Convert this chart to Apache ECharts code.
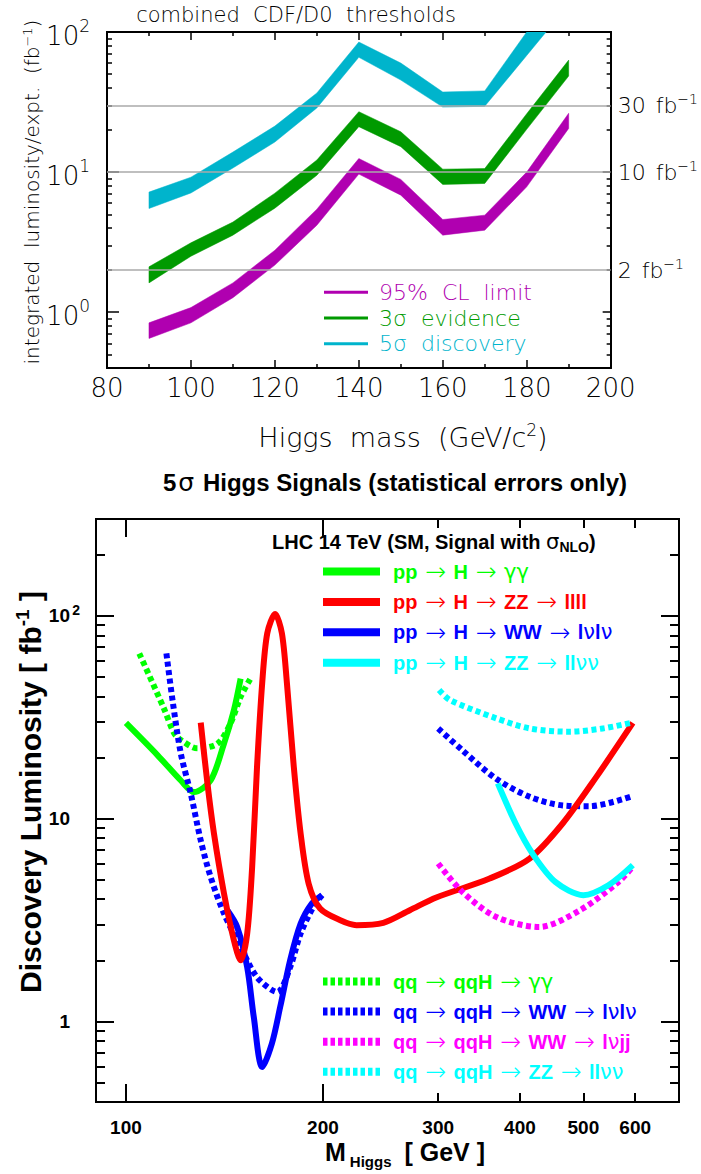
<!DOCTYPE html>
<html>
<head>
<meta charset="utf-8">
<script src="https://cdn.jsdelivr.net/npm/echarts@6.0.0/dist/echarts.min.js"></script>
<style>html,body{margin:0;padding:0;background:#fff;}#chart{width:701px;height:1174px;}</style>
</head>
<body>
<div id="chart"></div>
<script>
// ---------- top panel data (combined CDF/D0 thresholds) ----------
const topMass = [90, 100, 110, 120, 130, 140, 150, 160, 170, 180, 190];
const clLow   = [0.65, 0.84, 1.27, 2.17, 4.18, 9.68, 6.85, 3.55, 3.85, 7.85, 20.5];
const clHigh  = [0.84, 1.08, 1.62, 2.77, 5.44, 12.5, 8.87, 4.59, 4.93, 10.0, 26.3];
const evLow   = [1.62, 2.51, 3.55, 5.53, 9.5, 21.1, 15.2, 8.17, 8.3, 20.2, 48.5];
const evHigh  = [2.11, 3.13, 4.4, 7.08, 12.2, 27, 19.4, 10.5, 10.6, 26.1, 63];
const discLow  = [5.5, 7.1, 10.7, 16.4, 28.7, 66, 45.4, 29.1, 29.5, 68, 157];
const discHigh = [7.2, 9.2, 13.9, 21.3, 36.7, 84.8, 60, 37.3, 38, 100, 260];
const thresholds = [30, 10, 2];
const topNames = ['95%  CL  limit', '3σ  evidence', '5σ  discovery'];
const topYMajor = [1, 10, 100];
const topYMinor = [0.4, 0.5, 0.6, 0.7, 0.8, 0.9, 2, 3, 4, 5, 6, 7, 8, 9, 20, 30, 40, 50, 60, 70, 80, 90];

// ---------- bottom panel data (LHC 14 TeV discovery luminosity) ----------
const ggGamMass = [100, 111.8, 121.3, 127.1, 134.7, 141.2, 146.2, 149.7];
const ggGamLumi = [29.6, 20.5, 15.4, 13.5, 15.4, 23.4, 34.2, 49];
const zz4lMass = [130.1, 133.2, 136.3, 141.2, 146.2, 149.7, 153.2, 155.9, 158.6, 161.5, 164.4, 169, 173.1, 176.2, 180.5, 184.9, 190.2, 198, 212.6, 225, 247.3, 271.5, 298, 359.5, 413.8, 464.8, 523.1, 595];
const zz4lLumi = [29.7, 14.9, 8.43, 4.27, 2.51, 2.0, 2.71, 5.77, 18, 46.4, 81.9, 102, 81.9, 46.4, 18, 8.43, 4.77, 3.6, 3.15, 2.98, 3.06, 3.53, 4.08, 5.06, 6.35, 9.45, 16.0, 29.6];
const wwMass = [142.9, 147.9, 153.2, 156.8, 161.5, 167.1, 172.1, 178.2, 184.9, 192.3, 199.4];
const wwLumi = [3.53, 2.92, 1.85, 1.05, 0.595, 0.776, 1.18, 2.0, 3.03, 3.81, 4.19];
const zzllvvMass = [370, 394, 418, 453, 500, 546, 595];
const zzllvvLumi = [14.9, 9.45, 6.72, 4.87, 4.19, 4.69, 5.89];
const vbfGamMass = [104.8, 114.3, 118.5, 121.3, 128.6, 138, 144.5, 149.7, 155];
const vbfGamLumi = [65.2, 34.9, 26.3, 24.4, 22.2, 23.4, 29.5, 39.8, 49];
const vbfWWLowMass = [115.3, 117.8, 121.3, 125.6, 130.1, 134.7, 141.2, 149.7, 158.6, 170.3, 178.2, 184.9, 193.3, 199.4];
const vbfWWLowLumi = [65.2, 38.4, 20.9, 13.3, 7.8, 5.15, 3.4, 2.33, 1.65, 1.395, 1.85, 2.71, 3.66, 4.19];
const vbfWWHighMass = [300, 326.7, 368, 414, 465, 511, 590];
const vbfWWHighLumi = [27.8, 21.7, 15.7, 12.8, 11.6, 11.5, 12.8];
const vbfWWjjMass = [300, 326.6, 368, 428, 494, 566, 595];
const vbfWWjjLumi = [6.0, 4.35, 3.27, 2.92, 3.53, 4.87, 5.8];
const vbfZZMass = [301, 312.8, 368, 414, 476, 535, 590];
const vbfZZLumi = [43, 38.4, 31.2, 27.8, 26.8, 27.8, 29.6];
const solidNames = ['pp → H → γγ', 'pp → H → ZZ → llll', 'pp → H → WW → lνlν', 'pp → H → ZZ → llνν'];
const dashNames = ['qq → qqH → γγ', 'qq → qqH → WW → lνlν', 'qq → qqH → WW → lνjj', 'qq → qqH → ZZ → llνν'];
const botXMajor = [100, 200];
const botXMinor = [300, 400, 500, 600];
const botXLabels = [100, 200, 300, 400, 500, 600];
const botYMajor = [1, 10, 100];
const botYMinor = [0.5, 0.6, 0.7, 0.8, 0.9, 2, 3, 4, 5, 6, 7, 8, 9, 20, 30, 40, 50, 60, 70, 80, 90, 200];

// ---------- styling ----------
const TF = 'DejaVu Sans';
const BF = 'Liberation Sans';
const C_CL = '#b000b0', C_EV = '#009a00', C_DI = '#00b4cc';
const GREEN = '#00ff00', RED = '#ff0000', BLUE = '#0000ff', CYAN = '#00ffff', MAG = '#ff00ff';
const DASH = [5, 3.5];

// dashed legend icon (pattern of short bars)
function dashIcon(w, h, d, g) {
  let p = 'path://';
  for (let x = 0; x + d <= w + 0.01; x += d + g) p += 'M' + x + ',0h' + d + 'v' + h + 'h-' + d + 'z';
  return p;
}
const DASH_ICON = dashIcon(57, 8, 4.2, 2.8);

const chart = echarts.init(document.getElementById('chart'), null, {renderer: 'svg'});

function box(extra) {
  return Object.assign({
    axisLine: {show: true, lineStyle: {color: '#000', width: 2}},
    splitLine: {show: false},
    axisLabel: {show: false},
    axisTick: {show: false}
  }, extra);
}

const xAxis = [
  box({type: 'value', gridIndex: 0, position: 'bottom', min: 80, max: 200, interval: 20,
    axisTick: {show: true, inside: true, length: 8, lineStyle: {color: '#000', width: 1.5}},
    minorTick: {show: true, splitNumber: 2, length: 4, lineStyle: {color: '#000', width: 1.5}},
    axisLabel: {show: true, fontSize: 26, fontFamily: TF, fontWeight: 200, color: '#000', margin: 7}}),
  box({type: 'value', gridIndex: 0, position: 'top', min: 80, max: 200, interval: 20,
    axisTick: {show: true, inside: true, length: 8, lineStyle: {color: '#000', width: 1.5}},
    minorTick: {show: true, splitNumber: 2, length: 4, lineStyle: {color: '#000', width: 1.5}}}),
  box({type: 'log', gridIndex: 1, position: 'bottom', min: 90, max: 700,
    axisTick: {show: true, inside: true, length: 18, customValues: botXMajor, lineStyle: {color: '#000', width: 2}},
    axisLabel: {show: true, customValues: botXLabels, fontSize: 19, fontWeight: 'bold', fontFamily: BF, color: '#000', margin: 16}}),
  box({type: 'log', gridIndex: 1, position: 'bottom', min: 90, max: 700,
    axisTick: {show: true, inside: true, length: 9, customValues: botXMinor, lineStyle: {color: '#000', width: 2}}}),
  box({type: 'log', gridIndex: 1, position: 'top', min: 90, max: 700,
    axisTick: {show: true, inside: true, length: 18, customValues: botXMajor, lineStyle: {color: '#000', width: 2}}}),
  box({type: 'log', gridIndex: 1, position: 'top', min: 90, max: 700,
    axisTick: {show: true, inside: true, length: 9, customValues: botXMinor, lineStyle: {color: '#000', width: 2}}})
];

const yAxis = [
  box({type: 'log', gridIndex: 0, position: 'left', min: 0.4, max: 100,
    axisTick: {show: true, inside: true, length: 12, customValues: topYMajor, lineStyle: {color: '#000', width: 1.5}},
    axisLabel: {show: true, customValues: topYMajor, margin: 17, color: '#000',
      formatter: v => '{b|10}{s|' + Math.round(Math.log10(v)) + '}',
      rich: {b: {fontSize: 26, fontFamily: TF, fontWeight: 200, padding: [8, 0, 0, 0]},
             s: {fontSize: 17, fontFamily: TF, fontWeight: 200, padding: [0, 0, 12, 0]}}}}),
  box({type: 'log', gridIndex: 0, position: 'left', min: 0.4, max: 100,
    axisTick: {show: true, inside: true, length: 5, customValues: topYMinor, lineStyle: {color: '#000', width: 1.5}}}),
  box({type: 'log', gridIndex: 0, position: 'right', min: 0.4, max: 100,
    axisTick: {show: true, inside: true, length: 8, customValues: topYMajor, lineStyle: {color: '#000', width: 1.5}},
    axisLabel: {show: true, customValues: thresholds, margin: 7, color: '#000',
      formatter: v => '{n|' + v + '}   {n|fb}{s|−1}',
      rich: {n: {fontSize: 22, fontFamily: TF, fontWeight: 200},
             s: {fontSize: 14, fontFamily: TF, fontWeight: 200, padding: [0, 0, 12, 0]}}}}),
  box({type: 'log', gridIndex: 0, position: 'right', min: 0.4, max: 100,
    axisTick: {show: true, inside: true, length: 4, customValues: topYMinor, lineStyle: {color: '#000', width: 1.5}}}),
  box({type: 'log', gridIndex: 1, position: 'left', min: 0.4, max: 300,
    axisTick: {show: true, inside: true, length: 18, customValues: botYMajor, lineStyle: {color: '#000', width: 2}},
    axisLabel: {show: true, customValues: botYMajor, margin: 16, color: '#000',
      formatter: v => v === 100 ? '{b|10}{s|2}' : '{b|' + v + '}{sp| }',
      rich: {b: {fontSize: 19, fontWeight: 'bold', fontFamily: BF},
             s: {fontSize: 14, fontWeight: 'bold', fontFamily: BF, width: 10, align: 'right', padding: [0, 0, 12, 0]},
             sp: {width: 10}}}}),
  box({type: 'log', gridIndex: 1, position: 'left', min: 0.4, max: 300,
    axisTick: {show: true, inside: true, length: 9, customValues: botYMinor, lineStyle: {color: '#000', width: 2}}}),
  box({type: 'log', gridIndex: 1, position: 'right', min: 0.4, max: 300,
    axisTick: {show: true, inside: true, length: 18, customValues: botYMajor, lineStyle: {color: '#000', width: 2}}}),
  box({type: 'log', gridIndex: 1, position: 'right', min: 0.4, max: 300,
    axisTick: {show: true, inside: true, length: 9, customValues: botYMinor, lineStyle: {color: '#000', width: 2}}})
];

function band(name, color, low, high) {
  return {
    type: 'custom', name: name, xAxisIndex: 0, yAxisIndex: 0, clip: true, z: 3, silent: true,
    itemStyle: {color: color},
    data: [[100, 1]],
    renderItem: function (params, api) {
      const pts = [];
      for (let i = 0; i < topMass.length; i++) pts.push(api.coord([topMass[i], high[i]]));
      for (let i = topMass.length - 1; i >= 0; i--) pts.push(api.coord([topMass[i], low[i]]));
      return {type: 'polygon', shape: {points: pts}, style: {fill: color, stroke: color, lineWidth: 0.5}};
    }
  };
}

function curve(name, color, mass, lumi, dashed, z) {
  return {
    type: 'line', name: name, xAxisIndex: 2, yAxisIndex: 4, z: z, silent: true,
    data: mass.map((m, i) => [m, lumi[i]]),
    symbol: 'none', showSymbol: false, smooth: 0.3, clip: true,
    lineStyle: {color: color, width: 6, type: dashed ? DASH : 'solid', cap: 'butt', join: 'round'},
    itemStyle: {color: color}
  };
}

const series = [
  {type: 'line', xAxisIndex: 0, yAxisIndex: 0, data: [], z: 1, silent: true,
   markLine: {silent: true, symbol: 'none', label: {show: false},
     lineStyle: {color: '#aaaaaa', width: 1.5, type: 'solid'},
     data: thresholds.map(v => ({yAxis: v}))}},
  band(topNames[0], C_CL, clLow, clHigh),
  band(topNames[1], C_EV, evLow, evHigh),
  band(topNames[2], C_DI, discLow, discHigh),
  curve(solidNames[0], GREEN, ggGamMass, ggGamLumi, false, 3),
  curve(dashNames[0], GREEN, vbfGamMass, vbfGamLumi, true, 3),
  curve(dashNames[1], BLUE, vbfWWLowMass, vbfWWLowLumi, true, 4),
  curve(dashNames[1], BLUE, vbfWWHighMass, vbfWWHighLumi, true, 4),
  curve(solidNames[2], BLUE, wwMass, wwLumi, false, 4),
  curve(solidNames[1], RED, zz4lMass, zz4lLumi, false, 5),
  curve(dashNames[3], CYAN, vbfZZMass, vbfZZLumi, true, 5),
  curve(dashNames[2], MAG, vbfWWjjMass, vbfWWjjLumi, true, 5),
  curve(solidNames[3], CYAN, zzllvvMass, zzllvvLumi, false, 6)
];

const legRich = {
  a: {fontWeight: 200, fontSize: 25, fontFamily: TF, padding: [0, 2, 0, 2]},
  g: {fontWeight: 'normal', fontSize: 21, fontFamily: TF}
};
const legFmt = name => name.replace(/→/g, '{a|→}').replace(/([γν]+)/g, '{g|$1}');

const legend = [
  {orient: 'vertical', left: 319, top: 275, itemWidth: 44, itemHeight: 3, itemGap: 1.3, icon: 'rect',
   selectedMode: false,
   textStyle: {fontSize: 22, fontFamily: TF, fontWeight: 200, lineHeight: 24.5, padding: [0, 0, 0, 6]},
   data: [{name: topNames[0], textStyle: {color: C_CL}},
          {name: topNames[1], textStyle: {color: C_EV}},
          {name: topNames[2], textStyle: {color: C_DI}}]},
  {orient: 'vertical', left: 318, top: 554, itemWidth: 57, itemHeight: 8, itemGap: 5.4, icon: 'rect',
   selectedMode: false, symbolKeepAspect: false,
   formatter: legFmt,
   textStyle: {fontSize: 20, fontFamily: BF, fontWeight: 'bold', lineHeight: 24, padding: [0, 0, 0, 8], rich: legRich},
   data: [{name: solidNames[0], textStyle: {color: GREEN}},
          {name: solidNames[1], textStyle: {color: RED}},
          {name: solidNames[2], textStyle: {color: BLUE}},
          {name: solidNames[3], textStyle: {color: CYAN}}]},
  {orient: 'vertical', left: 318, top: 964, itemWidth: 57, itemHeight: 8, itemGap: 5.1, icon: DASH_ICON,
   selectedMode: false, symbolKeepAspect: false,
   formatter: legFmt,
   textStyle: {fontSize: 20, fontFamily: BF, fontWeight: 'bold', lineHeight: 24, padding: [0, 0, 0, 8], rich: legRich},
   data: [{name: dashNames[0], textStyle: {color: GREEN}},
          {name: dashNames[1], textStyle: {color: BLUE}},
          {name: dashNames[2], textStyle: {color: MAG}},
          {name: dashNames[3], textStyle: {color: CYAN}}]}
];

function txt(x, y, text, st, rot) {
  const el = {type: 'text', x: x, y: y, silent: true, z: 10,
    style: Object.assign({text: text, fill: '#000', align: 'center', verticalAlign: 'middle',
      textAlign: 'center', textVerticalAlign: 'middle'}, st)};
  if (rot) el.rotation = rot;
  return el;
}

const graphic = [
  txt(296, 15, 'combined  CDF/D0  thresholds', {fontSize: 21, fontFamily: TF, fontWeight: 200}),
  txt(403, 437, 'Higgs  mass  (GeV/c{s|2})', {fontSize: 27, fontFamily: TF, fontWeight: 200,
    rich: {s: {fontSize: 17, fontFamily: TF, fontWeight: 200, padding: [0, 0, 14, 0]}}}),
  txt(32, 192, 'integrated  luminosity/expt.  (fb{s|−1})', {fontSize: 20, fontFamily: TF, fontWeight: 200,
    rich: {s: {fontSize: 13, fontFamily: TF, fontWeight: 200, padding: [0, 0, 10, 0]}}}, Math.PI / 2),
  txt(395, 482, '5{g|σ} Higgs Signals (statistical errors only)', {fontSize: 24, fontFamily: BF, fontWeight: 'bold',
    rich: {g: {fontSize: 25, fontFamily: TF, fontWeight: 'normal', padding: [0, 2, 0, 2]}}}),
  txt(272, 542, 'LHC 14 TeV (SM, Signal with {g|σ}{sub|NLO})', {fontSize: 20, fontFamily: BF, fontWeight: 'bold',
    align: 'left', textAlign: 'left',
    rich: {g: {fontSize: 21, fontFamily: TF, fontWeight: 'normal'},
           sub: {fontSize: 14, fontFamily: BF, fontWeight: 'bold', padding: [10, 0, 0, 0]}}}),
  txt(325, 1152, 'M{sub|Higgs} [ GeV ]', {fontSize: 25, fontFamily: BF, fontWeight: 'bold', align: 'left', textAlign: 'left',
    rich: {sub: {fontSize: 15, fontFamily: BF, fontWeight: 'bold', padding: [18, 6, 0, 4]}}}),
  txt(30, 792, 'Discovery Luminosity [ fb{s|-1} ]', {fontSize: 30, fontFamily: BF, fontWeight: 'bold',
    rich: {s: {fontSize: 19, fontFamily: BF, fontWeight: 'bold', padding: [0, 0, 16, 0]}}}, Math.PI / 2)
];

chart.setOption({
  animation: false,
  backgroundColor: '#fff',
  grid: [
    {left: 107, top: 32, width: 506, height: 336},
    {left: 96, top: 519, width: 583, height: 583}
  ],
  xAxis: xAxis,
  yAxis: yAxis,
  legend: legend,
  graphic: graphic,
  series: series
});
</script>
</body>
</html>
